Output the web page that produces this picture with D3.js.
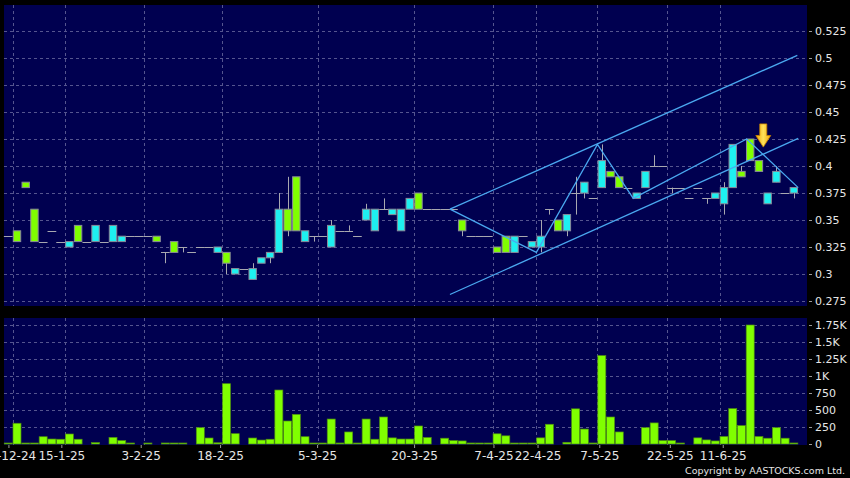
<!DOCTYPE html>
<html><head><meta charset="utf-8">
<script src="https://cdn.jsdelivr.net/npm/d3@7"></script>
<style>html,body{margin:0;padding:0;background:#000;}svg{display:block;}</style>
</head><body>
<script>
// ---- data ----
const days = d3.range(91).map(i => "d" + i); // trading-day categories (dates not labelled individually)
const opens  = [.335,.34,.385,.36,.33,.34,.33,.325,.345,.33,.33,.33,.33,.33,.335,.335,.335,.335,.32,.33,.325,.32,.325,.325,.32,.32,.30,.305,.295,.31,.315,.32,.36,.39,.33,.335,.335,.325,.34,.34,.335,.35,.34,.36,.355,.34,.36,.375,.36,.36,.36,.36,.35,.335,.335,.335,.325,.335,.32,.335,.325,.325,.36,.35,.34,.375,.375,.37,.38,.395,.39,.38,.37,.38,.40,.40,.38,.38,.37,.38,.37,.37,.365,.38,.395,.425,.405,.365,.385,.375,.375];
const highs  = [.335,.34,.385,.36,.33,.34,.33,.33,.345,.33,.345,.33,.345,.335,.335,.335,.335,.335,.32,.33,.325,.32,.325,.325,.325,.32,.305,.305,.31,.315,.32,.375,.39,.39,.34,.335,.335,.35,.34,.345,.335,.365,.36,.37,.36,.36,.37,.375,.36,.36,.36,.36,.35,.335,.335,.335,.325,.335,.335,.335,.33,.35,.36,.35,.355,.39,.385,.37,.42,.395,.39,.38,.375,.395,.41,.40,.38,.38,.37,.38,.37,.375,.385,.42,.40,.425,.405,.375,.40,.375,.38];
const lows   = [.335,.33,.38,.33,.33,.34,.33,.325,.33,.33,.33,.33,.33,.33,.335,.335,.335,.33,.31,.32,.32,.32,.325,.325,.32,.30,.30,.305,.295,.31,.31,.32,.335,.34,.33,.33,.335,.325,.34,.34,.335,.35,.34,.36,.355,.34,.36,.36,.36,.36,.36,.36,.335,.335,.335,.335,.32,.32,.32,.335,.325,.32,.355,.34,.335,.355,.37,.37,.38,.39,.38,.38,.37,.38,.40,.40,.375,.38,.37,.38,.365,.37,.355,.38,.39,.405,.395,.365,.385,.375,.37];
const closes = [.335,.33,.38,.33,.33,.34,.33,.33,.33,.33,.345,.33,.345,.335,.335,.335,.335,.33,.32,.32,.325,.32,.325,.325,.325,.31,.305,.305,.305,.315,.32,.36,.34,.34,.34,.335,.335,.345,.34,.34,.335,.36,.36,.36,.36,.36,.37,.36,.36,.36,.36,.36,.34,.335,.335,.335,.32,.32,.335,.335,.33,.335,.36,.34,.355,.375,.385,.37,.405,.39,.38,.38,.375,.395,.40,.40,.38,.38,.37,.38,.37,.375,.38,.42,.39,.405,.395,.375,.395,.375,.38];
const volumes = [10,305,8,5,107,73,70,147,70,0,20,0,97,50,5,0,8,0,15,7,7,0,240,88,18,887,152,0,88,58,70,794,338,436,107,8,8,367,15,177,8,367,70,397,90,73,73,265,95,0,85,50,45,15,10,10,150,120,12,10,10,90,290,0,25,517,220,15,1300,397,177,0,0,240,310,50,50,10,0,90,60,45,110,520,270,1750,110,85,240,85,15];

const dateTickDays = [1, 7, 16, 25, 36, 47, 56, 61, 68, 76, 82];
const dateTickLabels = ["31-12-24","15-1-25","3-2-25","18-2-25","5-3-25","20-3-25","7-4-25","22-4-25","7-5-25","22-5-25","11-6-25"];
const priceTicks = [0.275,0.3,0.325,0.35,0.375,0.4,0.425,0.45,0.475,0.5,0.525];
const priceTickLabels = ["0.275","0.3","0.325","0.35","0.375","0.4","0.425","0.45","0.475","0.5","0.525"];
const volTicks = [0,250,500,750,1000,1250,1500,1750];
const volTickLabels = ["0","250","500","750","1K","1.25K","1.5K","1.75K"];

// hand-drawn annotations: [day index, price]
const zigzag = [[50.6,0.36],[60.5,0.32],[67.5,0.42],[71.6,0.37],[84.6,0.425],[90.5,0.38]];
const channelUpper = [[50.6,0.36],[90.4,0.5025]];
const channelLower = [[50.6,0.281],[90.5,0.4255]];
const arrowMark = {day: 86.5, top: 0.439, tip: 0.4175};

// ---- layout ----
const W = 850, H = 478;
const P = {left: 4, right: 807, top: 5, bottom: 306};
const V = {left: 4, right: 807, top: 318, bottom: 445};
const FONT = "'DejaVu Sans', Verdana, sans-serif";

const svg = d3.select("body").append("svg").attr("width", W).attr("height", H)
  .style("font-family", FONT);
svg.append("rect").attr("width", W).attr("height", H).attr("fill", "#000");

const x = d3.scaleLinear().domain([-0.5, days.length - 0.5]).range([3.9, 798.2]);
const xTick = d3.scaleLinear().domain([-0.5, days.length - 0.5]).range([-4.8, 797.7]);
const step = x(1) - x(0);
const y = d3.scaleLinear().domain([0.275, 0.525]).range([301, 31]);
const yv = d3.scaleLinear().domain([0, 1750]).range([444, 325]);

const navy = "#000050";
const gridCol = "#55558f";
svg.append("rect").attr("x", P.left).attr("y", P.top).attr("width", P.right - P.left).attr("height", P.bottom - P.top).attr("fill", navy);
svg.append("rect").attr("x", V.left).attr("y", V.top).attr("width", V.right - V.left).attr("height", V.bottom - V.top).attr("fill", navy);

const grid = svg.append("g").attr("stroke", gridCol).attr("stroke-width", 1).attr("stroke-dasharray", "3,3");
grid.selectAll(".hp").data(priceTicks).join("line")
  .attr("x1", P.left).attr("x2", P.right)
  .attr("y1", d => Math.round(y(d)) + 0.5).attr("y2", d => Math.round(y(d)) + 0.5);
grid.selectAll(".hv").data(volTicks.slice(1)).join("line")
  .attr("x1", V.left).attr("x2", V.right)
  .attr("y1", d => Math.round(yv(d)) + 0.5).attr("y2", d => Math.round(yv(d)) + 0.5);
dateTickDays.forEach(k => {
  const gx = Math.round(x(k - 0.5)) + 0.5;
  grid.append("line").attr("x1", gx).attr("x2", gx).attr("y1", P.top).attr("y2", P.bottom);
  grid.append("line").attr("x1", gx).attr("x2", gx).attr("y1", V.top).attr("y2", V.bottom);
});

// ---- candles ----
const up = "#1ef0f0", down = "#80ff00", wickCol = "#a8a8b0";
const cg = svg.append("g");
const bodyW = 7.4;
days.forEach((d, i) => {
  const o = opens[i], h = highs[i], l = lows[i], c = closes[i];
  const cx = x(i);
  const top = Math.max(o, c), bot = Math.min(o, c);
  if (h > top || l < bot) {
    cg.append("line").attr("x1", Math.round(cx) + 0.5).attr("x2", Math.round(cx) + 0.5)
      .attr("y1", y(h)).attr("y2", y(l)).attr("stroke", wickCol).attr("stroke-width", 1);
  }
  if (o === c) {
    cg.append("line").attr("x1", cx - step / 2).attr("x2", cx + step / 2)
      .attr("y1", Math.round(y(c)) + 0.5).attr("y2", Math.round(y(c)) + 0.5)
      .attr("stroke", wickCol).attr("stroke-width", 1);
  } else {
    cg.append("rect").attr("x", cx - bodyW / 2).attr("width", bodyW)
      .attr("y", y(top)).attr("height", y(bot) - y(top))
      .attr("fill", c > o ? up : down).attr("stroke", "#8a8a9a").attr("stroke-width", 1);
  }
});

// ---- trend lines ----
const line = d3.line().x(d => x(d[0])).y(d => y(d[1]));
const tl = svg.append("g").attr("fill", "none").attr("stroke", "#4aa8f0").attr("stroke-width", 1.3);
[zigzag, channelUpper, channelLower].forEach(pts => tl.append("path").attr("d", line(pts)));

// ---- arrow ----
const defs = svg.append("defs");
const gr = defs.append("linearGradient").attr("id", "arrowGrad").attr("x1", "0").attr("x2", "1");
gr.append("stop").attr("offset", "0").attr("stop-color", "#f2a400");
gr.append("stop").attr("offset", "0.5").attr("stop-color", "#ffe25a");
gr.append("stop").attr("offset", "1").attr("stop-color", "#f2a400");
{
  const ax = x(arrowMark.day), at = y(arrowMark.top), ap = y(arrowMark.tip);
  const hb = at + (ap - at) * 0.5;
  const pth = `M${ax - 3.5},${at} L${ax + 3.5},${at} L${ax + 3.5},${hb} L${ax + 7.5},${hb} L${ax},${ap} L${ax - 7.5},${hb} L${ax - 3.5},${hb} Z`;
  svg.append("path").attr("d", pth).attr("fill", "url(#arrowGrad)").attr("stroke", "#c88400").attr("stroke-width", 0.8);
}

// ---- volume bars ----
const vg = svg.append("g");
volumes.forEach((v, i) => {
  if (v <= 0) return;
  const top = Math.min(yv(v), 443);
  vg.append("rect").attr("x", x(i) - 4).attr("width", 8)
    .attr("y", top).attr("height", 444 - top)
    .attr("fill", "#80ff00").attr("stroke", "#4f8f10").attr("stroke-width", 0.7);
});

// ---- axes ----
const txtCol = "#e6e6e6";
const pAxis = svg.append("g").attr("transform", `translate(${P.right + 2},0)`)
  .call(d3.axisRight(y).tickValues(priceTicks).tickFormat((d, i) => priceTickLabels[i]).tickSize(3).tickPadding(3));
const vAxis = svg.append("g").attr("transform", `translate(${V.right + 2},0)`)
  .call(d3.axisRight(yv).tickValues(volTicks).tickFormat((d, i) => volTickLabels[i]).tickSize(3).tickPadding(3));
const xAxis = svg.append("g").attr("transform", `translate(0,${V.bottom})`)
  .call(d3.axisBottom(xTick).tickValues(dateTickDays)
    .tickFormat((d, i) => dateTickLabels[i]).tickSize(3).tickPadding(3));
[pAxis, vAxis, xAxis].forEach(a => {
  a.select(".domain").remove();
  a.selectAll(".tick line").attr("stroke", "#9a9a9a");
  a.selectAll("text").attr("fill", txtCol).style("font-size", "11px").style("font-family", FONT);
});
xAxis.selectAll("text").style("font-size", "12px");

svg.append("text").attr("x", 845).attr("y", 474).attr("text-anchor", "end")
  .attr("fill", txtCol).style("font-size", "9.5px").text("Copyright by AASTOCKS.com Ltd.");
</script>
</body></html>
